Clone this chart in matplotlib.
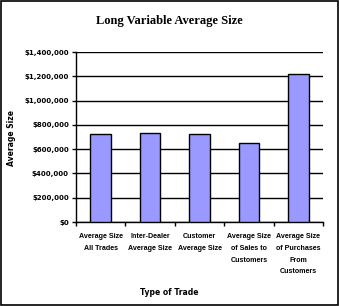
import matplotlib.pyplot as plt
from matplotlib.patches import Rectangle
from matplotlib.ticker import FuncFormatter, MultipleLocator
import numpy as np

categories = ["Average Size\nAll Trades", "Inter-Dealer\nAverage Size", "Customer\nAverage Size",
              "Average Size\nof Sales to\nCustomers", "Average Size\nof Purchases\nFrom\nCustomers"]
values = [725000, 733000, 725000, 650000, 1217000]

fig = plt.figure(figsize=(3.39, 3.06), dpi=100)
ax = fig.add_axes([0.224, 0.2745, 0.729, 0.5555])

x = np.arange(len(categories))
ax.bar(x, values, width=0.42, color="#9999FF", edgecolor="black", linewidth=1, zorder=3)

ax.set_xlim(-0.5, len(categories) - 0.5)
ax.set_ylim(0, 1400000)
ax.yaxis.set_major_locator(MultipleLocator(200000))
ax.yaxis.set_major_formatter(FuncFormatter(lambda v, p: "${:,.0f}".format(v)))
ax.grid(axis="y", color="black", linewidth=1, zorder=0)

ax.set_xticks(x)
ax.set_xticklabels(categories, fontsize=5.1, fontweight="bold", family="Liberation Sans",
                   linespacing=1.95, va="top")
ax.set_xticks(np.arange(-0.5, len(categories)), minor=True)
ax.tick_params(axis="x", which="major", length=0, pad=8)
ax.tick_params(axis="x", which="minor", length=3, width=1, direction="out")
ax.tick_params(axis="y", length=3, width=1, labelsize=5, pad=2)
for lab in ax.get_yticklabels():
    lab.set_fontweight("bold")

for s in ["top", "right"]:
    ax.spines[s].set_visible(False)
ax.spines["left"].set_linewidth(1)
ax.spines["bottom"].set_linewidth(1)

fig.text(0.5, 0.932, "Long Variable Average Size", ha="center", va="center",
         fontsize=9, fontweight="bold", family="Liberation Serif")
fig.text(0.035, 0.55, "Average Size", rotation=90, ha="center", va="center",
         fontsize=5.5, fontweight="bold")
fig.text(0.5, 0.045, "Type of Trade", ha="center", va="center",
         fontsize=5.5, fontweight="bold")

fig.patches.append(Rectangle((0.002, 0.002), 0.994, 0.994, transform=fig.transFigure,
                             fill=False, edgecolor="black", linewidth=1.2))

fig.savefig("out.png", dpi=100)
